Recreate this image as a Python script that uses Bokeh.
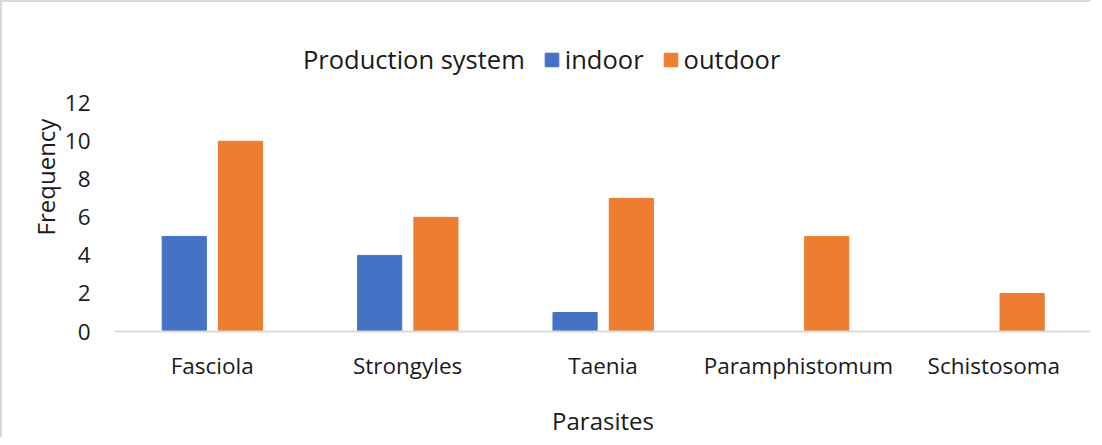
from bokeh.plotting import figure
from bokeh.models import ColumnDataSource, FactorRange, Range1d, Legend, LegendItem, FixedTicker
from bokeh.transform import dodge
from bokeh.embed import file_html
from bokeh.resources import INLINE

parasites = ["Fasciola", "Strongyles", "Taenia", "Paramphistomum", "Schistosoma"]
indoor = [5, 4, 1, 0, 0]
outdoor = [10, 6, 7, 5, 2]
y_ticks = [0, 2, 4, 6, 8, 10, 12]
legend_title = "Production system"

FONT = "Open Sans"
TXT = "#1a1a1a"

src = ColumnDataSource(dict(parasite=parasites, indoor=indoor, outdoor=outdoor))

# the value axis stops at 12; the space above it holds the legend
p = figure(x_range=FactorRange(*parasites, range_padding=0), y_range=Range1d(0, 16.245),
           width=1090, height=437, output_backend="svg", toolbar_location=None,
           min_border_left=112, min_border_right=1, min_border_top=20, min_border_bottom=107,
           styles={"border-left": "2px solid #d9d9d9", "border-top": "2px solid #d9d9d9"})
p.outline_line_color = None
p.grid.visible = False

r1 = p.vbar(x=dodge("parasite", -0.143, range=p.x_range), top="indoor", width=0.226,
            source=src, fill_color="#4472C4", line_color="#4472C4")
r2 = p.vbar(x=dodge("parasite", 0.145, range=p.x_range), top="outdoor", width=0.226,
            source=src, fill_color="#ED7D31", line_color="#ED7D31")
# empty, invisible renderer carrying the legend's title entry
r0 = p.vbar(x=[], top=[], width=0.2, fill_alpha=0, line_alpha=0)

# axes
p.yaxis.ticker = FixedTicker(ticks=y_ticks)
p.yaxis.axis_line_color = None
p.yaxis.major_tick_line_color = None
p.yaxis.minor_tick_line_color = None
p.yaxis.major_label_standoff = 18
p.yaxis.major_label_text_font = FONT
p.yaxis.major_label_text_font_size = "22.5px"
p.yaxis.major_label_text_color = TXT
p.yaxis.axis_label = "Frequency"
p.yaxis.axis_label_standoff = 0
p.yaxis.axis_label_text_font = FONT
p.yaxis.axis_label_text_font_size = "24px"
p.yaxis.axis_label_text_font_style = "normal"
p.yaxis.axis_label_text_color = TXT

p.xaxis.axis_line_color = "#d9d9d9"
p.xaxis.axis_line_width = 2
p.xaxis.major_tick_line_color = None
p.xaxis.minor_tick_line_color = None
p.xaxis.major_label_standoff = 12
p.xaxis.major_label_text_font = FONT
p.xaxis.major_label_text_font_size = "22.5px"
p.xaxis.major_label_text_color = TXT
p.xaxis.axis_label = "Parasites"
p.xaxis.axis_label_standoff = 20
p.xaxis.axis_label_text_font = FONT
p.xaxis.axis_label_text_font_size = "24px"
p.xaxis.axis_label_text_font_style = "normal"
p.xaxis.axis_label_text_color = TXT

# legend
legend = Legend(items=[LegendItem(label=legend_title, renderers=[r0]),
                       LegendItem(label="indoor", renderers=[r1]),
                       LegendItem(label="outdoor", renderers=[r2])],
                location=(167, 255), orientation="horizontal",
                glyph_width=17, glyph_height=17, label_standoff=5, spacing=18,
                padding=0, margin=0, border_line_alpha=0, background_fill_alpha=0,
                label_text_font=FONT, label_text_font_size="25.5px", label_text_color=TXT,
                label_height=30)
p.add_layout(legend, "center")

open("out.html", "w").write(file_html(p, INLINE))
